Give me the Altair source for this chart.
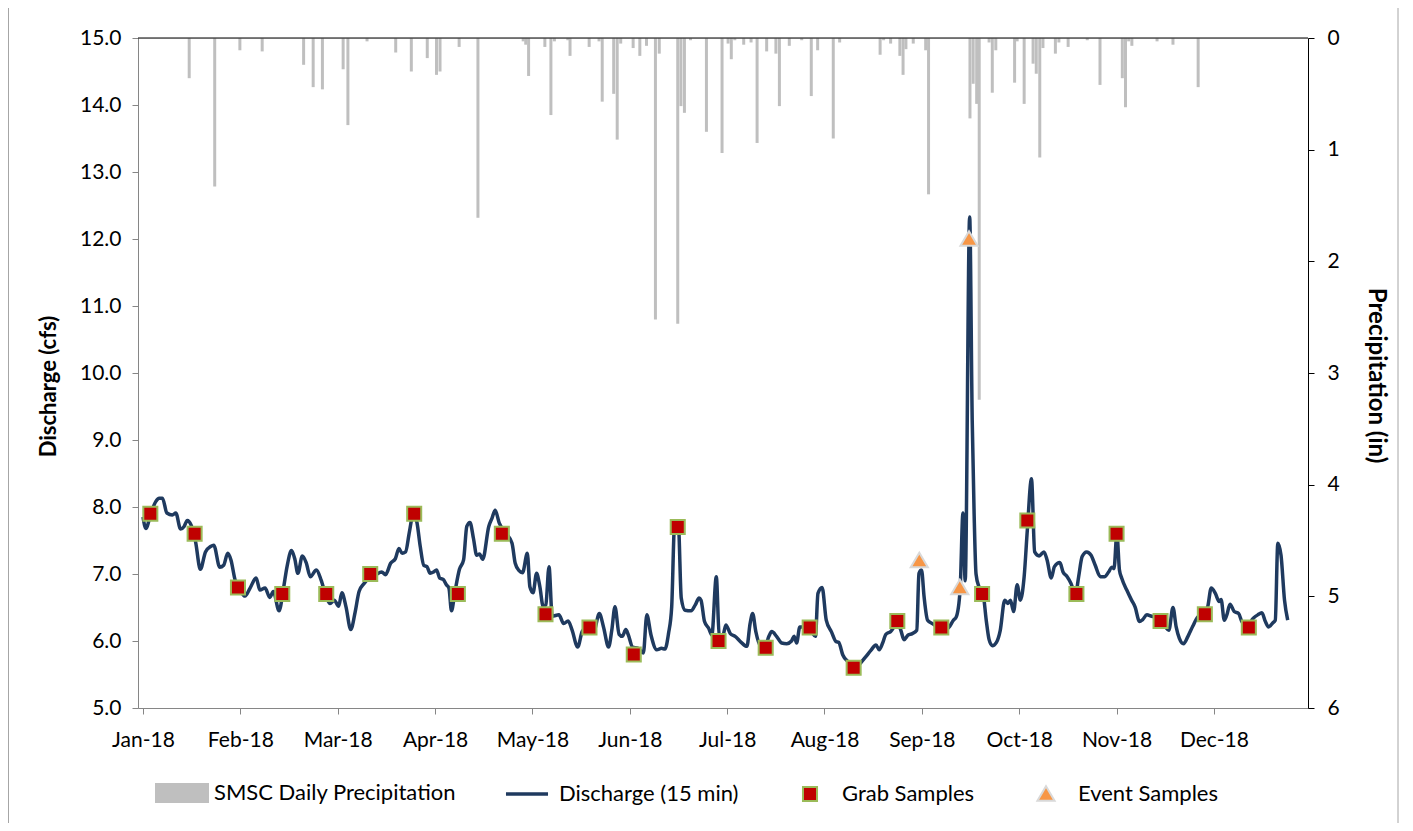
import altair as alt
import pandas as pd

# ---------------- data (day = days after 2018-01-01) ----------------
month_labels = ["Jan-18", "Feb-18", "Mar-18", "Apr-18", "May-18", "Jun-18",
                "Jul-18", "Aug-18", "Sep-18", "Oct-18", "Nov-18", "Dec-18"]
tick_days = [0, 30.55, 61.1, 91.65, 122.2, 152.75, 183.3, 213.85, 244.4, 274.95, 305.5, 336.05]

precip_day = [14.5, 22.5, 30.4, 37.4, 50.4, 53.4, 56.3, 62.8, 64.3, 70.3,
              79.3, 84.2, 89.2, 92.1, 93.2, 99.2, 105.1, 119.3, 120.1, 121.0,
              126.1, 128.0, 129.1, 133.3, 134.0, 140.0, 143.1, 144.1, 147.7, 148.8,
              149.9, 153.8, 155.9, 158.0, 160.8, 162.0, 167.8, 168.8, 169.9, 171.8,
              176.8, 181.7, 183.6, 184.6, 185.7, 188.5, 190.8, 192.7, 195.7, 198.6,
              199.7, 202.8, 206.7, 209.7, 211.7, 216.6, 218.6, 231.3, 232.4, 234.6,
              237.5, 238.5, 239.4, 241.7, 245.6, 246.5, 259.5, 260.5, 261.6, 262.4,
              265.5, 266.5, 267.6, 273.5, 274.3, 276.5, 279.3, 280.3, 281.4, 282.4,
              286.3, 287.4, 290.3, 296.3, 300.3, 307.3, 308.3, 309.3, 310.3, 318.2,
              323.2, 331.1]
precip_in = [0.36, 1.33, 0.11, 0.12, 0.24, 0.44, 0.46, 0.28, 0.78, 0.03,
             0.13, 0.30, 0.18, 0.33, 0.30, 0.08, 1.61, 0.03, 0.06, 0.34,
             0.08, 0.69, 0.03, 0.02, 0.16, 0.08, 0.03, 0.57, 0.50, 0.91,
             0.05, 0.09, 0.16, 0.07, 2.52, 0.14, 2.56, 0.61, 0.67, 0.02,
             0.84, 1.03, 0.05, 0.19, 0.02, 0.06, 0.04, 0.94, 0.12, 0.14,
             0.61, 0.07, 0.02, 0.52, 0.11, 0.90, 0.04, 0.15, 0.02, 0.05,
             0.16, 0.33, 0.10, 0.05, 0.11, 1.40, 0.72, 0.41, 0.59, 3.24,
             0.04, 0.49, 0.11, 0.40, 0.03, 0.59, 0.23, 0.32, 1.07, 0.09,
             0.14, 0.04, 0.08, 0.02, 0.42, 0.36, 0.62, 0.03, 0.07, 0.03,
             0.06, 0.44]

q_day = [0, 0.9, 2.5, 4.0, 5.1, 6.1, 7.5, 9.2, 10.3, 11.8, 12.9, 13.9, 15.1, 16.5, 18.0,
         19.6, 21.2, 22.2, 24.1, 25.3, 26.6, 27.6, 28.9, 30.5, 32.0, 33.6, 35.5, 36.7,
         38.3, 39.8, 40.9, 42.7, 44.0, 45.2, 46.6, 47.6, 48.6, 50.0, 51.2, 52.5, 54.4,
         55.9, 57.5, 58.7, 60.0, 61.4, 62.4, 63.7, 65.2, 66.6, 67.8, 69.4, 70.9, 73.0,
         74.9, 76.1, 77.7, 79.2, 80.3, 81.3, 82.4, 83.6, 84.9, 86.0, 87.0, 88.1, 89.1,
         90.1, 91.2, 92.1, 93.1, 94.2, 95.2, 96.0, 96.8, 97.8, 99.3, 100.6, 101.6, 102.6,
         103.7, 104.7, 105.6, 106.6, 108.5, 109.5, 110.5, 111.8, 113.9, 115.8, 116.8,
         118.0, 119.1, 120.6, 121.4, 122.4, 123.5, 124.5, 125.6, 126.4, 127.4, 128.4,
         130.5, 132.0, 133.4, 134.6, 136.4, 137.8, 139.3, 141.4, 143.2, 144.5, 146.1,
         147.1, 148.1, 149.4, 150.4, 151.5, 152.3, 153.6, 155.4, 157.0, 158.1, 159.4,
         161.2, 162.7, 163.8, 164.9, 165.9, 166.8, 168.0, 168.9, 170.1, 172.0, 173.3,
         174.5, 175.1, 176.2, 177.5, 178.5, 179.9, 180.8, 181.9, 182.9, 184.3, 185.8,
         187.7, 189.5, 190.5, 191.3, 192.3, 193.6, 195.2, 196.4, 197.3, 198.8, 200.4,
         202.0, 203.5, 204.3, 205.1, 206.1, 208.2, 209.7, 211.0, 211.8, 213.1, 214.4,
         216.0, 217.5, 218.3, 219.6, 221.2, 223.0, 225.3, 226.9, 228.4, 230.0, 231.0,
         232.1, 233.1, 234.6, 236.7, 237.8, 238.8, 240.1, 241.4, 242.8, 243.5, 244.3,
         245.1, 246.2, 247.7, 249.3, 251.4, 253.0, 254.3, 255.2, 256.4, 257.3, 258.0,
         259.4, 260.2, 260.8, 261.4, 262.3, 263.6, 264.6, 265.5, 266.5, 267.8, 269.0,
         270.4, 271.4, 272.2, 273.2, 274.3, 275.3, 276.5, 277.5, 278.8, 279.8, 281.2,
         282.7, 283.7, 285.0, 286.0, 287.7, 288.7, 290.0, 291.2, 292.6, 293.6, 294.7,
         296.1, 297.5, 298.8, 300.4, 301.7, 303.0, 304.0, 304.7, 305.6, 306.4, 307.1,
         308.7, 310.2, 311.3, 312.7, 313.7, 315.0, 316.5, 318.0, 320.1, 321.9, 323.2,
         324.2, 325.2, 326.5, 327.9, 329.4, 331.0, 333.1, 334.1, 335.2, 336.5, 337.7,
         338.3, 339.3, 340.1, 341.1, 342.4, 343.8, 344.8, 346.3, 348.4, 349.8, 351.1,
         352.2, 353.2, 354.5, 355.3, 356.1, 357.1, 358.2, 359.2]
q_cfs = [7.85, 7.68, 7.91, 8.08, 8.13, 8.13, 7.91, 7.88, 7.91, 7.67, 7.71, 7.80, 7.73, 7.48, 7.07,
         7.33, 7.41, 7.43, 7.10, 7.13, 7.31, 7.21, 6.91, 6.76, 6.67, 6.79, 6.94, 6.76,
         6.79, 6.65, 6.74, 6.45, 6.76, 7.11, 7.35, 7.23, 7.01, 7.27, 7.17, 6.96, 7.06,
         6.91, 6.66, 6.56, 6.61, 6.52, 6.72, 6.51, 6.17, 6.44, 6.74, 6.86, 6.94, 6.99,
         7.03, 6.99, 7.16, 7.23, 7.38, 7.31, 7.33, 7.63, 7.92, 7.76, 7.41, 7.13, 7.11,
         7.01, 7.03, 7.06, 6.94, 6.92, 6.84, 6.79, 6.45, 6.71, 7.07, 7.21, 7.71, 7.77,
         7.53, 7.28, 7.30, 7.22, 7.71, 7.83, 7.95, 7.76, 7.61, 7.46, 7.16,
         7.05, 7.02, 7.31, 6.81, 6.72, 7.01, 6.82, 6.51, 6.54, 7.11, 6.37,
         6.39, 6.26, 6.30, 6.17, 5.91, 6.14, 6.21, 6.14, 6.41, 6.21, 5.91,
         6.16, 6.51, 6.10, 6.07, 6.17, 6.09, 5.91, 5.89, 5.82, 6.39, 6.09,
         5.87, 5.89, 5.88, 6.11, 6.51, 7.72, 7.72, 6.64, 6.46, 6.45, 6.54,
         6.64, 6.61, 6.29, 6.19, 6.09, 6.96, 6.09, 6.07, 6.24, 6.11, 6.07,
         5.98, 5.92, 6.26, 6.41, 6.14, 5.94, 5.92, 6.07, 6.14, 6.07, 5.97,
         5.96, 6.00, 6.07, 5.97, 6.21, 6.21, 6.14, 6.07, 6.71, 6.80, 6.31,
         6.14, 5.99, 5.98, 5.79, 5.69, 5.59, 5.68, 5.77, 5.86, 5.94, 5.87,
         5.97, 6.10, 6.14, 6.26, 6.16, 6.02, 6.09, 6.11, 6.16, 7.01, 7.06,
         6.66, 6.31, 6.26, 6.21, 6.16, 6.21, 6.31, 6.36, 6.76, 7.91, 6.90,
         12.33, 9.30, 7.90, 7.00, 6.81, 6.71, 6.31, 6.02, 5.93, 5.98, 6.16,
         6.61, 6.56, 6.61, 6.44, 6.84, 6.61, 6.96, 7.66, 8.42, 7.33, 7.27,
         7.33, 7.21, 6.94, 7.11, 7.17, 7.03, 6.96, 6.86, 6.69, 6.96, 7.26,
         7.33, 7.28, 7.13, 6.96, 6.96, 7.03, 7.10, 7.08, 7.60, 7.06, 6.94,
         6.76, 6.61, 6.51, 6.29, 6.32, 6.39, 6.37, 6.36, 6.26, 6.16, 6.50,
         6.21, 6.04, 5.96, 6.07, 6.22, 6.36, 6.41, 6.51, 6.79, 6.71, 6.59,
         6.62, 6.31, 6.39, 6.55, 6.44, 6.41, 6.29, 6.21, 6.34, 6.39, 6.42,
         6.29, 6.21, 6.27, 6.31, 7.46, 7.28, 6.61, 6.31]

grab_day = [2.3, 16.2, 29.8, 43.7, 57.5, 71.3, 85.1, 98.8, 112.6, 126.3, 140.1, 154.0, 167.8,
            180.6, 195.4, 209.2, 223.0, 236.7, 250.5, 263.3, 277.5, 292.9, 305.5, 319.3,
            333.2, 347.0]
grab_cfs = [7.9, 7.6, 6.8, 6.7, 6.7, 7.0, 7.9, 6.7, 7.6, 6.4, 6.2, 5.8, 7.7,
            6.0, 5.9, 6.2, 5.6, 6.3, 6.2, 6.7, 7.8, 6.7, 7.6, 6.3,
            6.4, 6.2]
event_day = [243.6, 256.3, 259.2]
event_cfs = [7.2, 6.8, 12.0]

series_names = ["SMSC Daily Precipitation", "Discharge (15 min)", "Grab Samples", "Event Samples"]
series_fill = ["#BFBFBF", "#1F3A5F", "#C00000", "#F79646"]
series_stroke = ["#BFBFBF", "#1F3A5F", "#9BBB59", "#D9D9D9"]
# symbol outlines in a [-1,1] box (box = 52 px)
series_shape = ["M-1,-0.346H1V0.346H-1Z",
                "M-0.77,-0.025H0.77V0.025H-0.77Z",
                "M-0.27,-0.27H0.27V0.27H-0.27Z",
                "M0,-0.3L0.33,0.26H-0.33Z"]

# ---------------- frames ----------------
precip_df = pd.DataFrame({"day": precip_day, "precip": precip_in})
q_df = pd.DataFrame({"day": q_day, "cfs": q_cfs})
pts_df = pd.DataFrame({
    "day": grab_day + event_day,
    "cfs": grab_cfs + event_cfs,
    "type": ["Grab Samples"] * len(grab_day) + ["Event Samples"] * len(event_day),
})

FONT = "Lato"
W, H = 1170, 670

label_expr = "[" + ",".join("'%s'" % m for m in month_labels) + "][round(datum.value / 30.55)]"
xscale = alt.Scale(domain=[0, 364], nice=False, zero=False)
x_axis = alt.Axis(values=tick_days, labelExpr=label_expr, grid=False, title=None,
                  domainColor="#868686", tickColor="#868686", tickSize=6,
                  labelPadding=15, labelFontSize=21, labelColor="black", labelFont=FONT,
                  labelFlush=False, labelOverlap=False)

yq_scale = alt.Scale(domain=[5, 15], nice=False, zero=False)
yp_scale = alt.Scale(domain=[0, 6], reverse=True, nice=False)

left_axis = alt.Axis(orient="left", values=list(range(5, 16)), format=".1f", grid=False,
                     title="Discharge (cfs)", domainColor="#868686", tickColor="#868686",
                     tickSize=6, labelPadding=11, labelFontSize=21, labelColor="black",
                     labelFont=FONT, titleFont=FONT, titleFontSize=22, titleFontWeight="bold",
                     titleColor="black", titleX=-90, titleY=348, titleAngle=270,
                     titleAlign="center", titleBaseline="middle")
right_axis = alt.Axis(orient="right", values=list(range(0, 7)), format="d", grid=False,
                      title="Precipitation (in)", domainColor="black", tickColor="black",
                      tickSize=6, labelPadding=13, labelFontSize=21, labelColor="black",
                      labelFont=FONT, titleFont=FONT, titleFontSize=24, titleFontWeight="bold",
                      titleColor="black", titleX=67, titleY=337, titleAngle=90,
                      titleAlign="center", titleBaseline="middle")

bars = alt.Chart(precip_df).mark_bar(color="#BFBFBF", size=3).encode(
    x=alt.X("day:Q", scale=xscale, axis=x_axis),
    y=alt.Y("precip:Q", scale=yp_scale, axis=right_axis),
)
top_rule = alt.Chart(pd.DataFrame({"v": [0]})).mark_rule(color="black", strokeWidth=1.2).encode(
    y=alt.Y("v:Q", scale=yp_scale, axis=right_axis)
)
precip_group = alt.layer(bars, top_rule)

line = alt.Chart(q_df).mark_line(color="#1F3A5F", strokeWidth=3.5, interpolate="monotone").encode(
    x=alt.X("day:Q", scale=xscale, axis=x_axis),
    y=alt.Y("cfs:Q", scale=yq_scale, axis=left_axis),
)

leg = alt.Legend(title=None, orient="none", legendX=17, legendY=728, direction="horizontal",
                 columns=4, symbolSize=2704, symbolStrokeWidth=2, symbolOpacity=1,
                 labelFont=FONT, labelFontSize=22, labelColor="black", labelOffset=5,
                 labelLimit=500, columnPadding=44, padding=0)
points = alt.Chart(pts_df).mark_point(filled=True, size=2704, opacity=1, strokeWidth=2).encode(
    x=alt.X("day:Q", scale=xscale, axis=x_axis),
    y=alt.Y("cfs:Q", scale=yq_scale, axis=left_axis),
    fill=alt.Fill("type:N", scale=alt.Scale(domain=series_names, range=series_fill), legend=leg),
    stroke=alt.Stroke("type:N", scale=alt.Scale(domain=series_names, range=series_stroke), legend=leg),
    shape=alt.Shape("type:N", scale=alt.Scale(domain=series_names, range=series_shape), legend=leg),
)

frame_df = pd.DataFrame({"k": [0]})
frame_left = alt.Chart(frame_df).mark_rule(color="#A6A6A6", strokeWidth=1).encode(
    x=alt.value(-129.5), y=alt.value(-30), y2=alt.value(790))
frame_right = alt.Chart(frame_df).mark_rule(color="#A6A6A6", strokeWidth=1).encode(
    x=alt.value(1260), y=alt.value(-30), y2=alt.value(790))

q_group = alt.layer(line, points, frame_left, frame_right)

chart = alt.layer(precip_group, q_group).resolve_scale(y="independent").properties(
    width=W, height=H,
    autosize=alt.AutoSizeParams(type="none"),
    padding={"left": 130, "top": 30, "right": 97, "bottom": 115},
).configure_view(strokeWidth=0).configure(font=FONT)

chart.save("out.html", embed_options={"renderer": "svg", "actions": False})
